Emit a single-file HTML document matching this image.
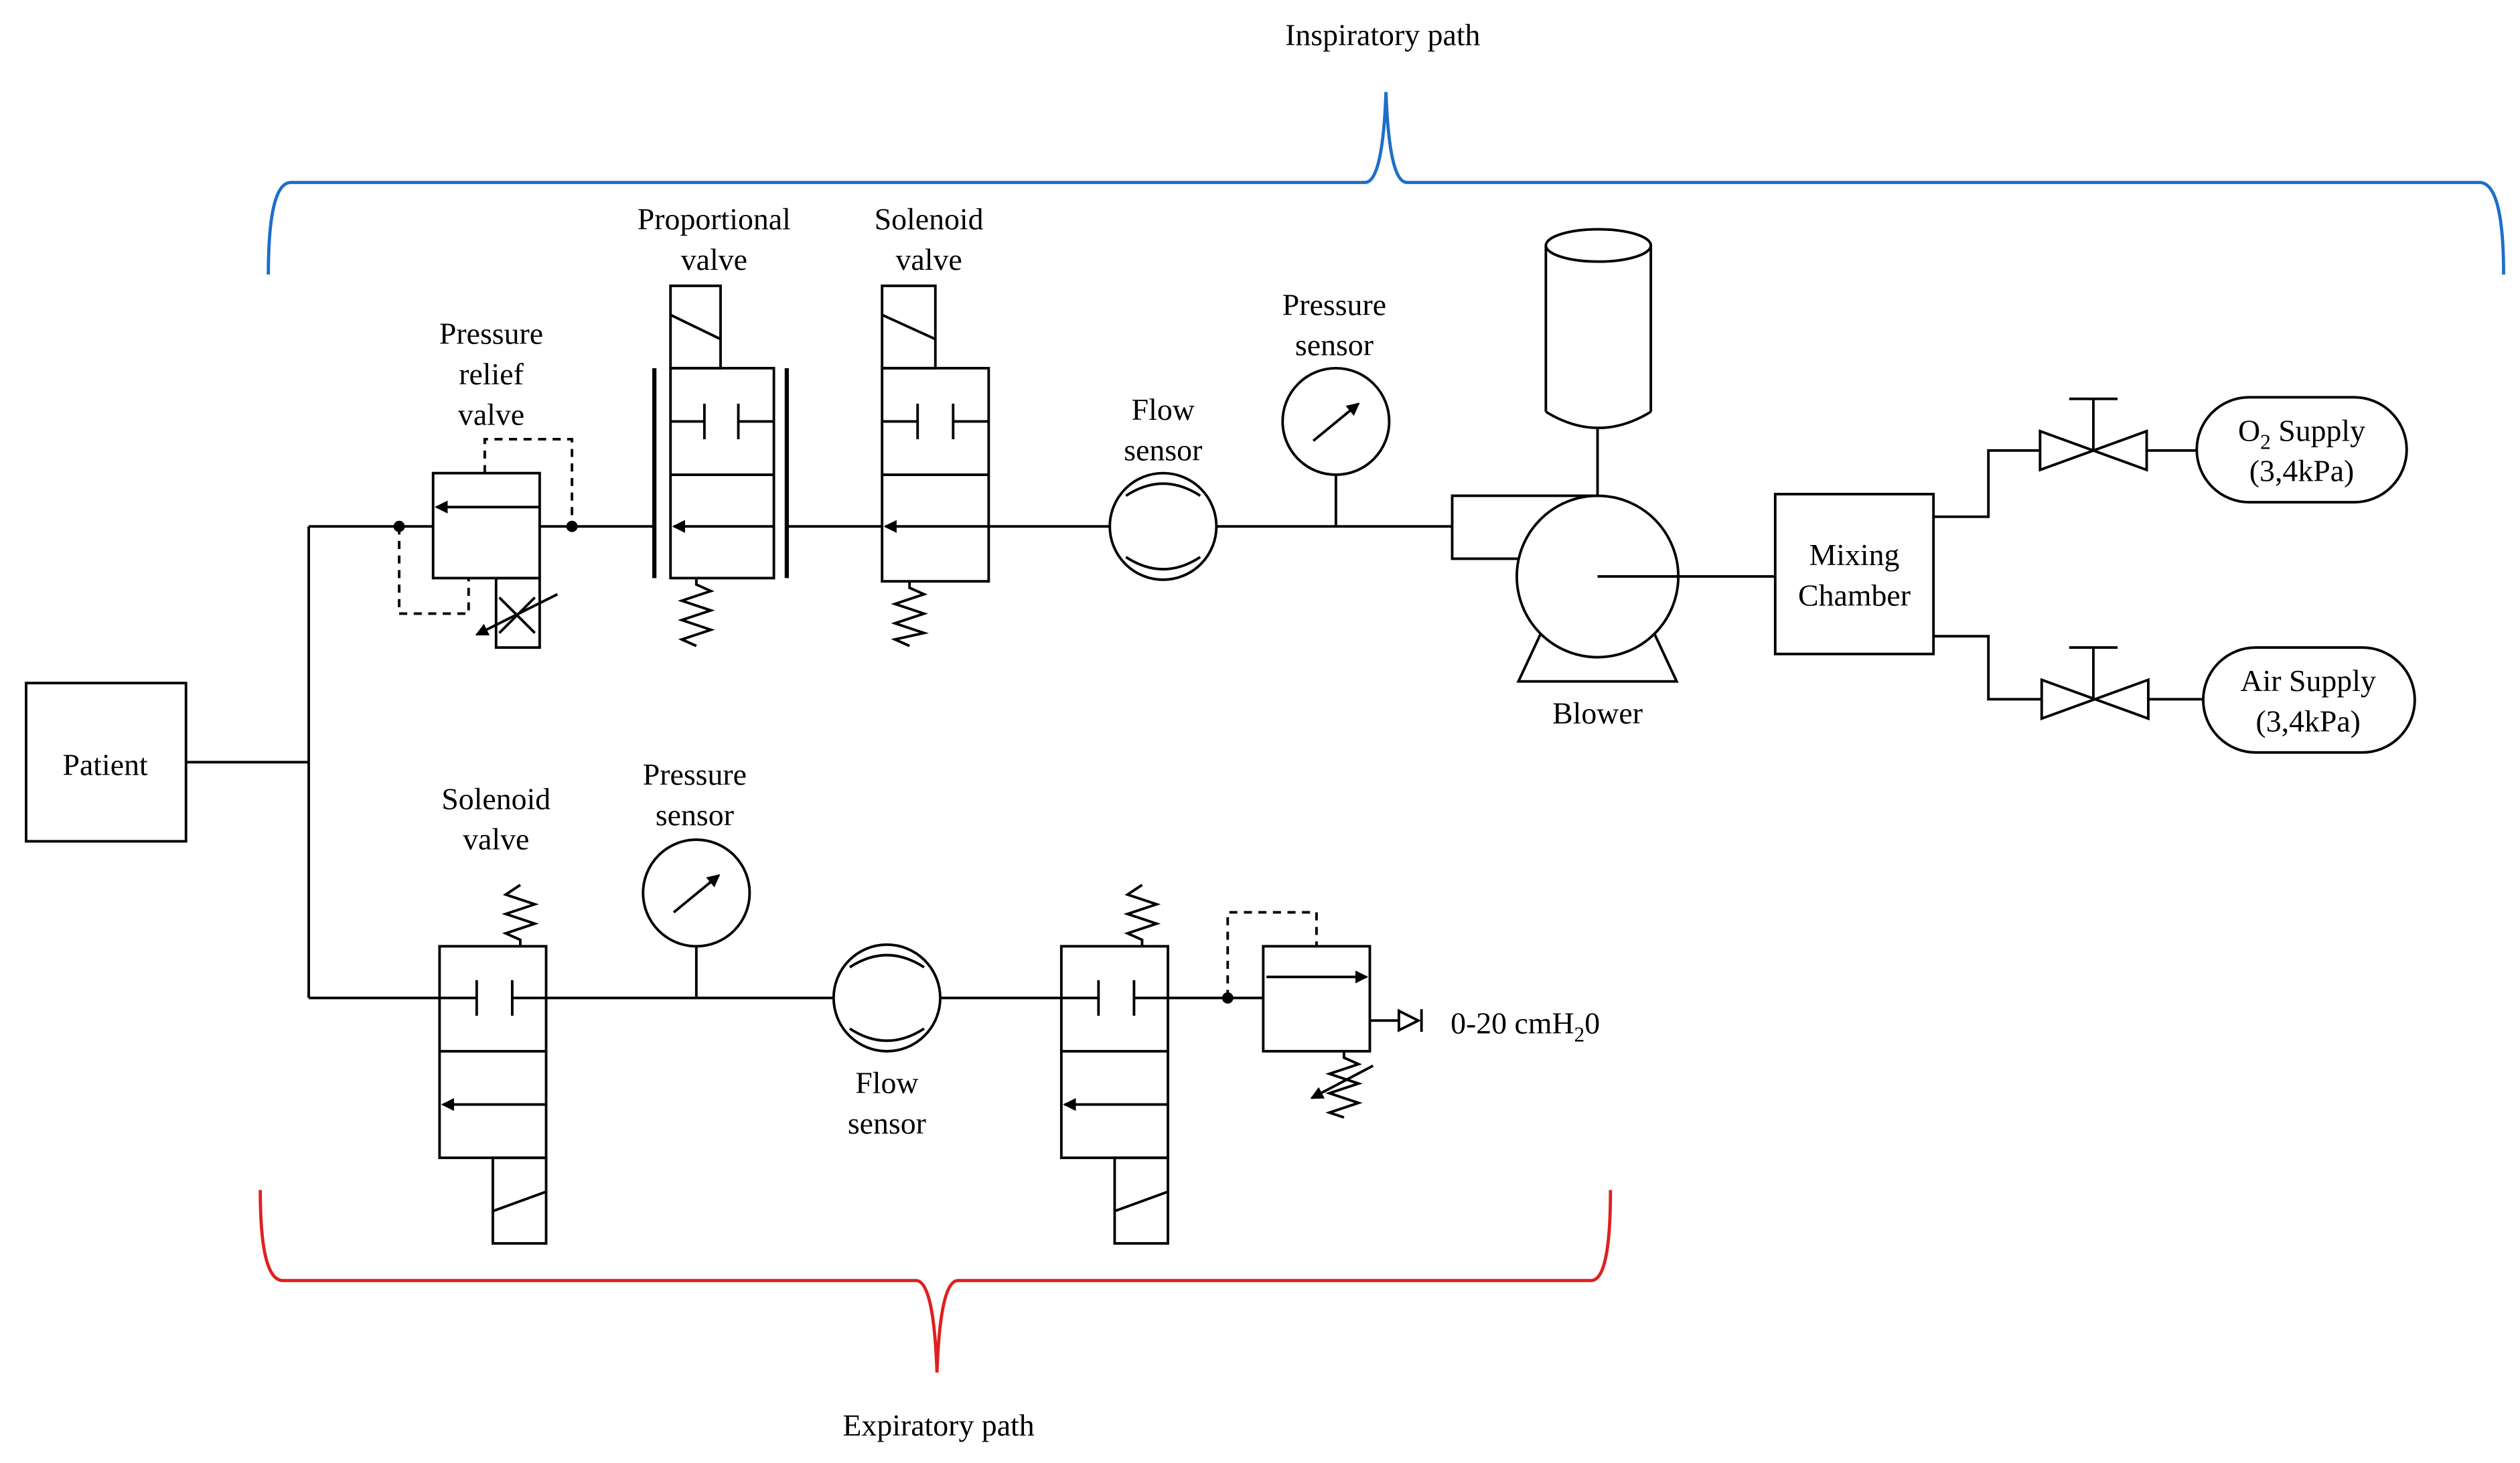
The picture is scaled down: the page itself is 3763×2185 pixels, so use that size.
<!DOCTYPE html>
<html><head><meta charset="utf-8"><style>
html,body{margin:0;padding:0;background:#fff;}
svg{display:block;}
text{font-family:"Liberation Serif",serif;font-size:19px;fill:#000;text-anchor:middle;}
</style></head><body>
<svg width="3763" height="2185" viewBox="0 0 1560 906" xmlns="http://www.w3.org/2000/svg">
<defs>
<marker id="ah" markerWidth="8" markerHeight="8" refX="7" refY="4" orient="auto" markerUnits="userSpaceOnUse"><path d="M0,0 L8,4 L0,8 z" fill="#000"/></marker>
</defs>
<g fill="none" stroke="#000" stroke-width="1.6">
<!-- braces -->
<path d="M166,170 Q166,113 180,113 L845,113 Q856,113 858,57 Q860,113 871,113 L1535,113 Q1550,113 1550,170" stroke="#1e6fc8" stroke-width="2"/>
<path d="M161,737 Q161,793 175,793 L567,793 Q578,793 580,850 Q582,793 593,793 L985,793 Q997,793 997,737" stroke="#e02020" stroke-width="2"/>
<!-- patient -->
<rect x="16" y="423" width="99" height="98"/>
<path d="M115,472 H191 M191,326 V618 M191,326 H268 M191,618 H272"/>
<!-- pressure relief valve -->
<rect x="268" y="293" width="66" height="65"/>
<line x1="334" y1="314" x2="270" y2="314" marker-end="url(#ah)"/>
<rect x="307" y="358" width="27" height="43"/>
<path d="M309,370 L331,392 M331,370 L309,392"/>
<line x1="345" y1="368" x2="295" y2="393" marker-end="url(#ah)"/>
<path d="M247,326 V380 H290 V358 M300,293 V272 H354 V326" stroke-dasharray="5,4"/>
<path d="M334,326 H405"/>
<!-- proportional valve -->
<rect x="415" y="228" width="64" height="130"/><line x1="415" y1="294" x2="479" y2="294"/>
<rect x="415" y="177" width="31" height="51"/><line x1="415" y1="195" x2="446" y2="210"/>
<path d="M415,261 H436 M436,250 V272 M457,250 V272 M457,261 H479"/>
<line x1="479" y1="326" x2="417" y2="326" marker-end="url(#ah)"/>
<path d="M405,228 V358 M487,228 V358" stroke-width="2.6"/>
<path d="M431,358 V362 L440,366 L422,372 L440,378 L422,384 L440,390 L422,396 L431,400"/>
<path d="M487,326 H546"/>
<!-- solenoid valve top -->
<rect x="546" y="228" width="66" height="132"/><line x1="546" y1="294" x2="612" y2="294"/>
<rect x="546" y="177" width="33" height="51"/><line x1="546" y1="195" x2="579" y2="210"/>
<path d="M546,261 H568 M568,250 V272 M590,250 V272 M590,261 H612"/>
<line x1="612" y1="326" x2="548" y2="326" marker-end="url(#ah)"/>
<path d="M563,360 V364 L572,368 L554,374 L572,380 L554,386 L572,392 L554,396 L563,400"/>
<path d="M612,326 H687"/>
<!-- flow sensor top -->
<circle cx="720" cy="326" r="33"/>
<path d="M697,307 Q720,292 743,307 M697,345 Q720,360 743,345"/>
<path d="M753,326 H899"/>
<!-- pressure sensor top -->
<circle cx="827" cy="261" r="33"/>
<line x1="813" y1="273" x2="841" y2="250" marker-end="url(#ah)"/>
<path d="M827,294 V326"/>
<!-- blower -->
<circle cx="989" cy="357" r="50"/>
<path d="M989,307 H899 V346 H940"/>
<path d="M954,392 L940,422 H1038 L1024,392"/>
<path d="M989,357 H1099"/>
<path d="M957,152 V255 M1022,152 V255"/>
<ellipse cx="989.5" cy="152" rx="32.5" ry="10"/>
<path d="M957,255 Q989.5,275 1022,255"/>
<path d="M989,265 V307"/>
<!-- mixing chamber -->
<rect x="1099" y="306" width="98" height="99"/>
<path d="M1197,320 H1231 V279 H1263 M1329,279 H1360"/>
<path d="M1263,267 V291 L1329,267 V291 Z M1296,279 V247 M1281,247 H1311"/>
<path d="M1197,394 H1231 V433 H1264 M1330,433 H1364"/>
<path d="M1264,421 V445 L1330,421 V445 Z M1296,433 V401 M1281,401 H1311"/>
<rect x="1360" y="246" width="130" height="65" rx="32.5"/>
<rect x="1364" y="401" width="131" height="65" rx="32.5"/>
<!-- bottom solenoid valve 1 -->
<rect x="272" y="586" width="66" height="131"/><line x1="272" y1="651" x2="338" y2="651"/>
<path d="M272,618 H295 M295,607 V629 M317,607 V629 M317,618 H338"/>
<line x1="338" y1="684" x2="274" y2="684" marker-end="url(#ah)"/>
<path d="M322,586 V582 L313,578 L331,572 L313,566 L331,560 L313,554 L322,548"/>
<rect x="305" y="717" width="33" height="53"/><line x1="305" y1="750" x2="338" y2="738"/>
<path d="M338,618 H516"/>
<circle cx="431" cy="553" r="33"/>
<line x1="417" y1="565" x2="445" y2="542" marker-end="url(#ah)"/>
<path d="M431,586 V618"/>
<circle cx="549" cy="618" r="33"/>
<path d="M526,599 Q549,584 572,599 M526,637 Q549,652 572,637"/>
<path d="M582,618 H657"/>
<!-- bottom solenoid valve 2 -->
<rect x="657" y="586" width="66" height="131"/><line x1="657" y1="651" x2="723" y2="651"/>
<path d="M657,618 H680 M680,607 V629 M702,607 V629 M702,618 H723"/>
<line x1="723" y1="684" x2="659" y2="684" marker-end="url(#ah)"/>
<path d="M707,586 V582 L698,578 L716,572 L698,566 L716,560 L698,554 L707,548"/>
<rect x="690" y="717" width="33" height="53"/><line x1="690" y1="750" x2="723" y2="738"/>
<path d="M723,618 H782"/>
<path d="M760,618 V565 H815 V586" stroke-dasharray="5,4"/>
<rect x="782" y="586" width="66" height="65"/>
<line x1="784" y1="605" x2="846" y2="605" marker-end="url(#ah)"/>
<path d="M832,651 V655 L841,659 L823,665 L841,671 L823,677 L841,683 L823,689 L832,692"/>
<line x1="850" y1="660" x2="812" y2="680" marker-end="url(#ah)"/>
<path d="M848,632 H866 M866,626 V638 L878,632 Z M880,625 V639"/>
</g>
<g fill="#000">
<circle cx="247" cy="326" r="3.5"/><circle cx="354" cy="326" r="3.5"/><circle cx="760" cy="618" r="3.5"/>
</g>
<text x="856" y="28">Inspiratory path</text>
<text x="581" y="889">Expiratory path</text>
<text x="65" y="480">Patient</text>
<text x="304" y="213">Pressure</text><text x="304" y="238">relief</text><text x="304" y="263">valve</text>
<text x="442" y="142">Proportional</text><text x="442" y="167">valve</text>
<text x="575" y="142">Solenoid</text><text x="575" y="167">valve</text>
<text x="720" y="260">Flow</text><text x="720" y="285">sensor</text>
<text x="826" y="195">Pressure</text><text x="826" y="220">sensor</text>
<text x="989" y="448">Blower</text>
<text x="1148" y="350">Mixing</text><text x="1148" y="375">Chamber</text>
<text x="1425" y="273">O<tspan font-size="13" dy="5">2</tspan><tspan dy="-5"> Supply</tspan></text><text x="1425" y="298">(3,4kPa)</text>
<text x="1429" y="428">Air Supply</text><text x="1429" y="453">(3,4kPa)</text>
<text x="307" y="501">Solenoid</text><text x="307" y="526">valve</text>
<text x="430" y="486">Pressure</text><text x="430" y="511">sensor</text>
<text x="549" y="677">Flow</text><text x="549" y="702">sensor</text>
<text x="898" y="640" style="text-anchor:start">0-20 cmH<tspan font-size="13" dy="5">2</tspan><tspan dy="-5">0</tspan></text>
</svg>
</body></html>
